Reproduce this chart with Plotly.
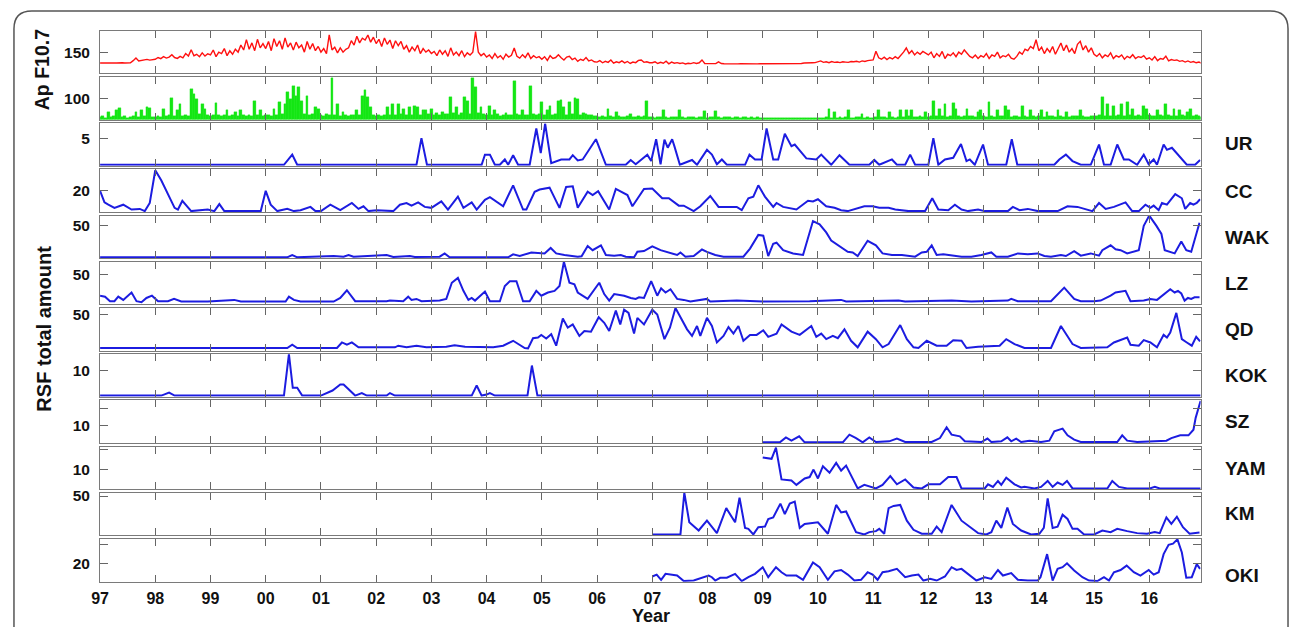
import numpy as np
import plotly.graph_objects as go

# ---------------- data ----------------
T0, DT = 1997.0, 0.05  # sampling of the F10.7 / Ap series (years)

f107 = [
 74,75,73,74,75,74,74,76,75,74,73,75,90,108,88,92,96,99,94,97,
 100,112,104,118,108,115,132,112,106,120,110,140,122,167,125,135,118,145,122,138,
 130,165,118,150,140,175,125,160,135,170,150,200,165,238,170,215,160,240,180,210,
 175,225,160,245,190,230,170,250,185,215,165,220,180,200,150,225,170,210,160,190,
 150,175,140,272,165,185,145,180,150,170,180,230,200,262,215,248,235,270,220,255,
 210,240,190,250,205,235,175,230,195,225,170,195,150,185,160,200,140,175,150,165,
 140,155,125,165,135,160,120,180,130,150,125,160,118,145,130,150,295,150,125,140,
 115,130,105,140,110,125,100,135,115,128,179,120,108,132,112,145,105,125,110,118,
 100,118,92,125,105,112,132,110,95,115,121,98,108,85,100,92,112,88,95,82,
 80,90,75,85,78,95,72,82,76,88,74,84,70,80,76,92,95,78,82,75,
 75,82,70,78,72,86,68,80,72,76,70,74,67,72,69,76,70,75,95,70,
 70,72,68,69,81,70,68,67,69,70,68,67,69,68,67,70,68,69,67,68,
 68,69,67,68,69,68,67,69,68,70,69,70,72,71,70,73,72,74,75,76,
 80,88,78,82,76,84,78,80,76,82,80,78,84,82,86,80,88,84,90,92,
 95,156,110,100,115,98,112,102,118,105,125,150,179,140,160,130,150,135,155,145,
 130,150,110,140,120,155,105,135,125,145,118,150,135,165,140,120,110,130,105,125,
 115,140,105,130,120,150,110,125,118,135,108,100,120,150,135,170,160,190,175,237,
 160,185,140,175,150,190,135,170,214,160,200,150,175,140,205,226,165,195,150,180,
 135,120,140,110,130,118,145,105,125,115,130,100,120,110,132,105,118,112,125,100,
 110,95,118,90,105,100,121,88,98,92,95,85,90,80,88,78,84,75,80,72,
]

ap = [
 12,15,10,35,14,18,43,55,12,16,10,14,18,35,12,43,15,58,55,14,
 14,18,12,51,16,20,100,18,43,74,15,22,18,143,120,97,25,74,51,20,
 18,22,77,20,16,24,43,18,22,35,15,43,20,18,24,16,89,20,43,18,
 20,24,18,51,22,82,25,74,132,97,159,112,151,89,26,112,22,28,58,51,
 22,18,26,20,194,24,74,18,35,22,16,20,24,43,20,112,138,105,58,24,
 18,22,16,24,58,20,74,22,74,26,51,20,58,24,66,58,22,47,43,26,
 51,24,30,22,35,28,26,105,30,58,24,32,105,89,28,197,151,30,58,26,
 24,66,20,43,26,18,22,30,24,20,182,26,22,43,20,24,159,28,22,26,
 82,20,43,66,22,26,89,92,58,24,82,28,102,97,22,30,26,20,24,18,
 16,14,18,12,50,15,13,35,16,12,14,18,28,14,12,16,13,15,89,14,
 12,10,14,11,43,12,10,13,11,12,43,12,10,14,11,13,10,12,11,40,
 10,12,11,40,12,10,13,11,12,10,11,13,10,12,14,10,11,9,12,10,
 8,7,9,6,8,7,6,8,7,9,6,8,7,6,8,7,9,7,8,6,
 8,10,9,12,51,10,35,9,11,10,12,46,10,9,12,11,28,10,12,9,
 10,12,43,11,14,10,35,12,10,14,43,12,46,15,43,12,14,18,12,35,
 14,16,89,18,51,15,74,14,18,77,51,16,14,18,51,15,16,14,35,43,
 15,14,82,16,13,47,15,18,66,43,14,16,15,13,66,15,14,47,16,14,
 16,43,14,35,18,15,14,43,16,12,35,14,16,18,15,43,16,14,12,15,
 18,16,20,105,18,74,16,66,15,20,74,18,82,20,51,18,22,16,66,51,
 20,16,18,43,22,18,74,20,16,51,18,43,20,16,35,51,18,22,16,14,
]

ur_t = [1997.0,2000.33,2000.48,2000.57,2002.73,2002.82,2002.92,2003.91,2003.97,2004.06,2004.15,2004.24,2004.33,2004.39,2004.48,2004.57,2004.78,2004.9,2004.98,2005.06,2005.17,2005.35,2005.5,2005.56,2005.65,2005.74,2005.98,2006.16,2006.52,2006.61,2006.7,2006.91,2006.98,2007.07,2007.15,2007.22,2007.28,2007.36,2007.4,2007.5,2007.72,2007.81,2007.99,2008.08,2008.17,2008.26,2008.35,2008.68,2008.76,2008.86,2008.98,2009.07,2009.19,2009.28,2009.4,2009.52,2009.58,2009.79,2009.97,2010.06,2010.24,2010.39,2010.57,2010.93,2011.02,2011.11,2011.34,2011.43,2011.58,2011.67,2011.76,2012.0,2012.09,2012.18,2012.3,2012.45,2012.59,2012.69,2012.75,2012.84,2012.99,2013.08,2013.41,2013.51,2013.61,2014.28,2014.37,2014.49,2014.61,2014.76,2014.94,2015.09,2015.18,2015.3,2015.42,2015.54,2015.63,2015.78,2015.9,2015.99,2016.08,2016.14,2016.26,2016.32,2016.41,2016.5,2016.68,2016.83,2016.92]
ur_v = [0,0,1.9,0,0,5.0,0,0,1.9,1.9,0,0,1.0,0,1.8,0,0,6.8,2.2,7.7,0.3,1.0,1.0,1.8,0.8,1.0,4.8,0,0,0.9,0.1,1.9,0.7,4.8,0.1,4.7,3.2,4.8,3.5,0,0.9,0,2.8,1.9,0.1,1.0,0,0,1.9,1.0,1.0,6.8,1.0,1.0,5.8,3.5,3.8,1.2,1.0,1.9,0,1.8,0,0,0.9,0,1.0,0,0,1.9,0,0,5.0,0,1.0,1.3,3.9,0.7,1.0,0,3.8,0,0,4.8,0,0,1.0,1.9,0.7,0,0,3.8,0,0,3.8,1.0,1.0,0,1.9,0.1,1.0,0,3.8,2.8,3.2,2.2,0,0,0.9]

cc_t = [1997.0,1997.08,1997.15,1997.26,1997.42,1997.57,1997.72,1997.81,1997.9,1998.0,1998.11,1998.35,1998.41,1998.49,1998.65,1998.95,1999.07,1999.16,1999.25,1999.91,2000.0,2000.09,2000.21,2000.39,2000.51,2000.63,2000.81,2000.9,2001.0,2001.17,2001.35,2001.56,2001.68,2001.77,2001.86,2002.01,2002.31,2002.43,2002.55,2002.64,2002.76,2002.88,2003.0,2003.18,2003.3,2003.48,2003.58,2003.73,2003.82,2003.97,2004.06,2004.3,2004.48,2004.66,2004.72,2004.87,2004.96,2005.14,2005.32,2005.44,2005.56,2005.65,2005.83,2005.92,2006.02,2006.22,2006.34,2006.55,2006.64,2006.85,2007.0,2007.18,2007.3,2007.48,2007.57,2007.75,2007.87,2008.05,2008.2,2008.53,2008.62,2008.74,2008.83,2008.92,2009.04,2009.19,2009.25,2009.37,2009.61,2009.82,2009.91,2010.0,2010.15,2010.3,2010.42,2010.54,2010.84,2010.99,2011.11,2011.28,2011.4,2011.52,2011.64,2011.94,2012.07,2012.18,2012.36,2012.48,2012.6,2012.72,2012.9,2013.02,2013.44,2013.53,2013.65,2013.8,2013.98,2014.34,2014.52,2014.7,2014.82,2014.97,2015.09,2015.21,2015.36,2015.57,2015.69,2015.81,2015.93,2016.02,2016.08,2016.17,2016.23,2016.32,2016.47,2016.59,2016.65,2016.74,2016.8,2016.86,2016.92]
cc_v = [19.6,8.6,6.4,3.4,6.4,1.8,2.4,0.3,8.0,39.2,29.4,3.4,1.8,10.1,0.3,1.8,0.3,7.0,0.3,0.3,19.6,6.4,0.3,2.4,0.3,1.2,4.3,0.3,0.3,6.4,1.2,8.0,2.4,4.9,0.3,1.2,0.3,6.4,8.0,5.5,8.6,4.3,3.4,9.5,1.8,14.1,3.4,8.6,1.8,11.0,13.5,4.9,24.8,1.8,1.8,18.7,20.8,22.6,3.4,23.3,23.9,3.4,18.7,15.6,19.3,1.8,21.4,15.6,4.9,21.4,21.7,12.5,12.5,5.5,5.5,0.3,4.9,14.7,4.3,4.3,1.2,12.5,14.1,24.8,14.1,4.3,8.0,4.3,1.8,10.1,9.5,11.6,4.9,3.4,1.2,0.3,4.9,4.9,3.4,3.4,1.8,1.2,0.3,0.3,12.5,1.8,1.2,6.4,1.8,0.3,1.8,0.3,0.3,4.3,1.2,2.4,0.3,0.3,4.9,4.3,2.4,0.3,8.0,2.4,4.3,8.6,0.3,0.3,6.4,3.4,5.5,1.2,8.0,6.4,16.5,12.5,2.4,8.0,6.4,8.0,11.6]

wak_t = [1997.0,2000.39,2000.48,2000.57,2001.23,2001.41,2001.5,2001.59,2002.19,2002.31,2002.61,2002.7,2003.15,2003.24,2003.33,2004.39,2004.48,2004.6,2004.81,2004.96,2005.05,2005.16,2005.26,2005.41,2005.65,2005.72,2005.83,2005.92,2006.07,2006.16,2006.31,2006.43,2006.52,2006.67,2006.73,2006.85,2007.0,2007.15,2007.33,2007.45,2007.51,2007.6,2007.75,2007.9,2007.99,2008.14,2008.29,2008.65,2008.77,2008.92,2009.01,2009.1,2009.19,2009.25,2009.37,2009.55,2009.73,2009.91,2010.03,2010.15,2010.24,2010.42,2010.54,2010.63,2010.72,2010.9,2011.05,2011.17,2011.34,2011.52,2011.76,2011.88,2011.97,2012.06,2012.15,2012.27,2012.42,2012.6,2012.78,2012.96,2013.14,2013.23,2013.44,2013.62,2013.8,2013.98,2014.1,2014.22,2014.4,2014.49,2014.64,2014.76,2014.94,2015.09,2015.15,2015.3,2015.39,2015.48,2015.6,2015.72,2015.81,2015.9,2016.0,2016.13,2016.22,2016.28,2016.37,2016.46,2016.58,2016.67,2016.76,2016.91]
wak_v = [0,0,3.6,0,2.0,1.0,3.6,1.0,3.6,0.5,2.0,0.5,1.0,6.1,0,0,4.6,2.0,7.6,6.1,6.1,14.7,6.1,3.6,1.0,1.5,17.8,11.2,18.8,3.6,2.5,3.6,1.0,0,8.6,9.7,17.3,11.2,6.1,3.6,7.6,1.0,2.0,12.2,8.6,3.6,1.0,1.0,13.7,35.1,34.0,2.0,21.3,22.9,11.2,6.1,3.6,56.9,51.8,39.1,26.4,16.3,8.6,7.6,2.0,25.9,18.8,6.1,3.6,3.6,1.0,7.6,8.6,18.8,3.6,4.6,2.5,1.0,1.0,3.6,7.6,1.0,1.0,6.1,4.6,6.1,2.0,1.0,3.6,2.0,9.7,2.5,6.1,2.5,11.2,18.8,12.7,11.2,6.1,9.7,11.2,49.3,65.5,49.3,36.6,11.2,8.6,6.1,24.9,11.2,8.6,54.4]

lz_t = [1997.0,1997.09,1997.18,1997.26,1997.33,1997.42,1997.57,1997.66,1997.75,1997.84,1997.94,1998.05,1998.23,1998.34,1998.47,1998.95,1999.43,1999.55,2000.36,2000.42,2000.51,2000.63,2001.23,2001.35,2001.47,2001.62,2002.19,2002.25,2002.49,2002.58,2002.64,2002.73,2002.82,2003.03,2003.15,2003.27,2003.37,2003.48,2003.58,2003.67,2003.73,2003.79,2003.88,2003.97,2004.06,2004.24,2004.33,2004.42,2004.54,2004.66,2004.78,2004.9,2004.99,2005.11,2005.23,2005.32,2005.4,2005.5,2005.59,2005.65,2005.83,2005.92,2006.04,2006.13,2006.22,2006.31,2006.49,2006.61,2006.7,2006.76,2006.85,2006.98,2007.09,2007.16,2007.24,2007.33,2007.45,2007.57,2007.69,2007.99,2008.05,2008.53,2009.01,2009.85,2010.42,2010.51,2011.46,2011.58,2012.42,2012.78,2013.44,2013.5,2013.62,2014.22,2014.31,2014.46,2014.64,2014.76,2015.0,2015.12,2015.3,2015.39,2015.57,2015.66,2015.9,2016.02,2016.14,2016.23,2016.38,2016.46,2016.52,2016.58,2016.64,2016.7,2016.76,2016.82,2016.91]
lz_v = [13.1,11.4,3.4,3.4,11.4,5.7,18.7,3.4,1.7,9.1,13.1,3.4,3.4,7.4,2.8,2.8,5.7,2.8,2.8,11.4,5.7,2.8,2.8,9.1,22.7,3.4,3.4,4.5,3.4,11.4,5.7,7.4,3.4,3.4,4.5,7.4,35.8,44.3,21.6,5.7,9.1,4.5,13.1,20.4,3.4,3.4,30.1,38.6,38.6,3.4,3.4,21.6,13.1,18.7,21.6,30.1,72.7,35.8,32.9,18.7,7.4,18.7,35.8,15.9,4.5,15.9,13.1,9.1,7.4,10.2,9.1,38.6,13.1,26.1,18.7,24.4,7.4,5.7,2.8,7.4,2.8,4.5,2.8,3.4,5.7,2.8,4.5,2.8,4.5,2.8,4.5,7.4,3.4,3.4,13.1,27.3,7.4,3.4,3.4,4.5,13.1,18.7,21.6,3.4,4.5,7.4,5.7,13.1,24.4,18.7,21.6,17.0,4.5,9.1,7.4,10.2,10.2]

qd_t = [1997.0,2000.39,2000.48,2000.57,2001.29,2001.38,2001.47,2001.56,2001.68,2002.01,2002.34,2002.4,2002.55,2002.73,2002.91,2003.27,2003.42,2003.61,2003.85,2004.12,2004.3,2004.48,2004.69,2004.75,2004.84,2004.93,2004.99,2005.08,2005.17,2005.26,2005.38,2005.47,2005.56,2005.68,2005.77,2005.89,2006.03,2006.13,2006.22,2006.34,2006.42,2006.49,2006.57,2006.67,2006.73,2006.85,2007.0,2007.09,2007.22,2007.32,2007.42,2007.51,2007.63,2007.72,2007.81,2007.87,2007.99,2008.08,2008.17,2008.29,2008.38,2008.47,2008.56,2008.65,2008.77,2008.89,2009.01,2009.1,2009.25,2009.34,2009.52,2009.67,2009.88,2009.97,2010.06,2010.15,2010.27,2010.36,2010.48,2010.6,2010.72,2010.9,2011.05,2011.17,2011.28,2011.49,2011.61,2011.73,2011.82,2011.97,2012.15,2012.33,2012.45,2012.6,2012.69,2012.9,2013.14,2013.29,2013.41,2013.56,2013.74,2014.22,2014.4,2014.61,2014.76,2015.0,2015.24,2015.36,2015.6,2015.66,2015.81,2015.9,2016.02,2016.14,2016.26,2016.32,2016.38,2016.49,2016.59,2016.68,2016.77,2016.85,2016.92]
qd_v = [0.5,0.5,5.3,0.5,0.5,8.7,5.3,8.7,1.5,1.5,1.5,3.9,1.5,3.9,1.5,2.4,4.4,2.4,1.5,1.5,3.9,11.2,0.5,0,15.0,16.0,19.9,14.6,20.9,3.9,44.1,30.6,35.4,18.4,25.7,24.7,46.1,37.8,25.7,55.8,35.4,57.2,52.4,21.8,45.1,35.4,57.2,50.0,13.6,30.6,59.7,46.1,28.1,18.4,33.0,18.4,45.1,33.0,8.7,18.4,31.5,21.8,33.0,11.2,19.9,19.9,26.7,17.0,21.8,35.4,24.7,19.9,33.0,17.0,21.8,13.6,18.4,15.0,28.1,11.2,1.5,24.7,13.6,1.5,6.3,34.4,13.6,1.5,0.5,11.2,3.9,3.9,12.1,11.2,0.5,2.4,3.9,3.9,13.6,6.3,0.5,0.5,33.0,6.3,0.5,1.5,1.5,8.7,16.0,5.3,3.9,12.1,8.7,1.5,19.9,16.0,23.3,52.4,13.6,8.7,3.9,17.0,10.2]

kok_t = [1997.0,1998.11,1998.25,1998.35,2000.33,2000.42,2000.49,2000.57,2000.66,2001.0,2001.21,2001.35,2001.41,2001.62,2001.74,2001.83,2002.19,2002.25,2002.34,2003.73,2003.82,2003.91,2004.0,2004.06,2004.15,2004.74,2004.82,2004.92,2016.93]
kok_v = [0,0,1.2,0,0,16.4,3.1,3.1,0,0,2.0,4.4,4.4,0,1.0,0,0,1.0,0,0,4.0,0,0.4,1.0,0,0,11.9,0,0]

sz_t = [2009.0,2009.31,2009.42,2009.52,2009.66,2009.76,2010.45,2010.57,2010.69,2010.81,2010.93,2011.05,2011.29,2011.43,2011.58,2012.06,2012.21,2012.33,2012.42,2012.57,2012.66,2012.96,2013.07,2013.14,2013.32,2013.43,2013.5,2013.59,2013.68,2013.83,2014.04,2014.19,2014.28,2014.43,2014.52,2014.64,2014.76,2015.42,2015.51,2015.6,2015.78,2016.31,2016.4,2016.56,2016.71,2016.8,2016.84,2016.93]
sz_v = [0,0,2.9,1.0,3.5,0,0,4.5,2.5,0,2.9,0.2,0.6,2.2,0.2,0.2,2.5,8.8,4.5,3.5,0.6,0.2,2.2,0.2,0.6,2.9,0.6,2.2,0.2,1.0,0.2,1.0,6.5,8.0,4.1,1.6,0.2,0.2,4.1,1.0,0.2,1.0,2.5,4.1,4.1,7.4,14.3,24.3]

yam_t = [2009.0,2009.16,2009.24,2009.34,2009.52,2009.61,2009.76,2009.85,2009.92,2010.0,2010.09,2010.21,2010.33,2010.42,2010.51,2010.72,2010.84,2011.05,2011.17,2011.31,2011.43,2011.58,2011.73,2011.88,2012.0,2012.21,2012.36,2012.51,2012.6,2013.02,2013.08,2013.17,2013.26,2013.32,2013.41,2013.56,2013.68,2013.74,2013.92,2014.04,2014.16,2014.25,2014.34,2014.43,2014.51,2014.61,2015.24,2015.33,2015.45,2015.6,2016.01,2016.1,2016.19,2016.93]
yam_v = [16.0,15.3,21.0,4.8,4.3,2.0,5.3,6.0,9.8,5.3,11.5,8.2,13.2,9.3,11.8,0.2,2.0,0.2,2.0,6.5,2.3,4.8,0.7,0.2,2.3,2.3,6.0,6.0,0.2,0.2,2.3,1.0,4.0,2.0,5.7,2.3,0.7,1.0,0.2,1.0,4.0,1.0,3.2,2.0,4.0,0.2,0.2,4.0,1.0,0.2,0.2,1.0,0.2,0.2]

km_t = [2007.0,2007.51,2007.58,2007.67,2007.84,2007.99,2008.17,2008.34,2008.5,2008.58,2008.68,2008.74,2008.83,2008.92,2009.04,2009.1,2009.19,2009.32,2009.4,2009.49,2009.58,2009.67,2009.76,2009.91,2010.0,2010.18,2010.33,2010.42,2010.51,2010.69,2010.84,2010.93,2011.05,2011.11,2011.2,2011.28,2011.37,2011.49,2011.61,2011.73,2011.88,2012.06,2012.15,2012.24,2012.42,2012.6,2012.75,2012.9,2013.05,2013.14,2013.23,2013.32,2013.43,2013.53,2013.68,2013.86,2014.01,2014.09,2014.16,2014.25,2014.34,2014.43,2014.52,2014.61,2014.7,2014.82,2015.0,2015.15,2015.3,2015.42,2015.6,2015.78,2015.96,2016.1,2016.19,2016.31,2016.4,2016.5,2016.61,2016.73,2016.91]
km_v = [0,0,54.2,15.8,5.1,17.9,1.7,34.2,15.8,47.8,8.5,7.3,0,9.4,10.2,20.1,22.2,40.1,26.5,40.1,42.7,8.5,13.7,14.5,15.8,0.9,38.4,28.6,29.9,3.0,0,3.0,4.3,7.3,0.9,34.2,37.1,38.4,17.9,6.0,0.9,0.9,10.2,3.0,38.4,17.9,10.2,1.7,0,3.0,17.9,8.5,35.0,13.7,5.1,0,0.9,8.5,47.0,8.5,10.2,25.6,20.1,7.3,7.3,0,0,5.1,3.0,7.3,4.3,1.7,0.9,3.0,1.7,22.2,13.7,23.1,9.4,0.9,2.6]

oki_t = [2007.0,2007.08,2007.16,2007.24,2007.45,2007.57,2007.75,2007.93,2008.02,2008.08,2008.14,2008.23,2008.35,2008.5,2008.62,2008.74,2008.86,2009.0,2009.1,2009.24,2009.34,2009.43,2009.61,2009.73,2009.91,2010.03,2010.18,2010.3,2010.42,2010.54,2010.66,2010.78,2010.9,2010.99,2011.08,2011.17,2011.28,2011.43,2011.58,2011.7,2011.82,2011.91,2012.03,2012.15,2012.3,2012.42,2012.51,2012.6,2012.75,2012.87,2013.02,2013.14,2013.26,2013.35,2013.5,2013.62,2013.8,2013.98,2014.03,2014.15,2014.25,2014.34,2014.43,2014.51,2014.64,2014.79,2014.91,2015.06,2015.18,2015.27,2015.36,2015.48,2015.59,2015.72,2015.84,2015.99,2016.08,2016.17,2016.26,2016.35,2016.43,2016.51,2016.59,2016.67,2016.77,2016.86,2016.92]
oki_v = [12.9,13.9,11.1,14.3,13.4,10.4,10.7,12.5,13.4,12.5,10.7,12.2,12.2,14.3,10.4,12.5,14.3,17.9,12.5,17.9,15.2,13.4,13.4,11.1,20.5,17.9,11.1,15.7,16.4,13.9,10.7,11.1,15.2,13.9,11.1,15.2,15.7,17.0,12.5,13.4,13.9,10.7,11.6,10.7,12.9,17.9,16.4,17.0,13.4,10.7,12.5,11.6,16.4,13.4,14.7,11.1,10.7,10.7,12.5,25.0,10.7,17.0,17.9,20.0,16.1,12.5,10.7,10.4,12.5,10.7,15.2,16.4,18.8,15.2,13.4,16.4,13.9,15.2,25.0,30.0,30.7,33.0,25.9,12.2,12.5,19.6,17.0]

year_ticks = list(range(1997, 2017))
year_labels = ["97","98","99","00","01","02","03","04","05","06","07","08","09","10","11","12","13","14","15","16"]

station_names = ["UR", "CC", "WAK", "LZ", "QD", "KOK", "SZ", "YAM", "KM", "OKI"]

# ---------------- layout geometry ----------------
W, H = 1290, 627
X0, X1 = 91.7, 1200.0
TOP0, STEP_PX, PH = 26.0, 46.57, 43.0
BLUE = "#1c1ce0"
GREEN = "#14e614"
FONT = "Liberation Sans, Arial, Helvetica, sans-serif"

t_daily = T0 + DT * np.arange(len(f107))

panels = [
    dict(kind="line", x=t_daily, y=f107, color="#ff1010", width=1.4, yr=[0, 300], tv=[150], tt=["150"]),
    dict(kind="bar", x=t_daily, y=ap, color=GREEN, yr=[0, 200], tv=[100], tt=["100"]),
    dict(kind="line", x=ur_t, y=ur_v, yr=[-0.2, 7.8], tv=[5], tt=["5"]),
    dict(kind="line", x=cc_t, y=cc_v, yr=[-0.6, 40], tv=[20], tt=["20"]),
    dict(kind="line", x=wak_t, y=wak_v, yr=[-1.5, 65.5], tv=[50], tt=["50"]),
    dict(kind="line", x=lz_t, y=lz_v, yr=[-2.3, 72.7], tv=[50], tt=["50"]),
    dict(kind="line", x=qd_t, y=qd_v, yr=[-3.4, 59.7], tv=[50], tt=["50"]),
    dict(kind="line", x=kok_t, y=kok_v, yr=[-0.5, 16.4], tv=[10], tt=["10"]),
    dict(kind="line", x=sz_t, y=sz_v, yr=[-0.4, 24.5], tv=[10, 20], tt=["10", ""]),
    dict(kind="line", x=yam_t, y=yam_v, yr=[-0.2, 21.5], tv=[10, 20], tt=["10", ""]),
    dict(kind="line", x=km_t, y=km_v, yr=[-1.3, 54.2], tv=[50], tt=["50"]),
    dict(kind="line", x=oki_t, y=oki_v, yr=[10.1, 33.2], tv=[20, 30], tt=["20", ""]),
]

label_y = [140, 188, 234, 281, 327, 373, 420, 467, 513, 575]

fig = go.Figure()
axis_common = dict(showline=True, linecolor="#7a7a7a", linewidth=1.1, mirror="ticks",
                   ticks="inside", tickcolor="#666666", tickwidth=1.2,
                   showgrid=False, zeroline=False)
n = len(panels)
for i, p in enumerate(panels):
    k = i + 1
    xs = "" if k == 1 else str(k)
    top = TOP0 + STEP_PX * i
    bot = top + PH
    if p["kind"] == "bar":
        fig.add_trace(go.Bar(
            x=p["x"], y=p["y"], width=DT,
            marker=dict(color=p["color"], line=dict(width=0.3, color=p["color"])),
            xaxis="x" + xs, yaxis="y" + xs, showlegend=False, hoverinfo="skip"))
    else:
        fig.add_trace(go.Scatter(
            x=p["x"], y=p["y"], mode="lines",
            line=dict(color=p.get("color", BLUE), width=p.get("width", 2.0)),
            xaxis="x" + xs, yaxis="y" + xs, showlegend=False, hoverinfo="skip"))
    fig.layout["xaxis" + xs] = dict(
        axis_common, domain=[X0 / W, X1 / W], range=[1997.0, 2016.93],
        anchor="y" + xs, tickvals=year_ticks, ticktext=year_labels, ticklen=7,
        showticklabels=(k == n), ticklabelstandoff=2,
        tickfont=dict(family=FONT, size=16, color="#111", weight="bold"))
    fig.layout["yaxis" + xs] = dict(
        axis_common, domain=[1 - bot / H, 1 - top / H], range=p["yr"],
        anchor="x" + xs, tickvals=p["tv"], ticktext=p["tt"], ticklen=8,
        ticklabelstandoff=6,
        tickfont=dict(family=FONT, size=15.5, color="#111", weight="bold"))

annotations = []
for name, yc in zip(station_names, label_y):
    annotations.append(dict(text=name, x=1223 / W, y=1 - yc / H, xref="paper", yref="paper",
                            xanchor="left", yanchor="middle", showarrow=False,
                            font=dict(family=FONT, size=19, color="#111", weight="bold")))
annotations.append(dict(text="Ap F10.7", x=33.5 / W, y=1 - 65.5 / H, xref="paper", yref="paper",
                        textangle=-90, showarrow=False, xanchor="center", yanchor="middle",
                        font=dict(family=FONT, size=19.5, color="#111", weight="bold")))
annotations.append(dict(text="RSF total amount", x=35.5 / W, y=1 - 326 / H, xref="paper", yref="paper",
                        textangle=-90, showarrow=False, xanchor="center", yanchor="middle",
                        font=dict(family=FONT, size=20, color="#111", weight="bold")))
annotations.append(dict(text="Year", x=646.7 / W, y=0.0, xref="paper", yref="paper",
                        showarrow=False, xanchor="center", yanchor="bottom", borderpad=0,
                        font=dict(family=FONT, size=18, color="#111", weight="bold")))


def px(v):
    return v / W


def py(v):
    return 1 - v / H


border = (f"M {px(5)},{py(660)} L {px(5)},{py(24)} Q {px(5)},{py(6)} {px(23)},{py(6)} "
          f"L {px(1270)},{py(6)} Q {px(1288)},{py(6)} {px(1288)},{py(24)} L {px(1288)},{py(660)}")

fig.update_layout(
    width=W, height=H, margin=dict(l=0, r=0, t=0, b=0),
    paper_bgcolor="white", plot_bgcolor="white",
    annotations=annotations, bargap=0,
    shapes=[dict(type="path", path=border, xref="paper", yref="paper",
                 line=dict(color="#555555", width=1.5), layer="above")],
)

fig.write_html("out.html", config={"displayModeBar": False},
               post_script="document.body.style.margin='0';")
